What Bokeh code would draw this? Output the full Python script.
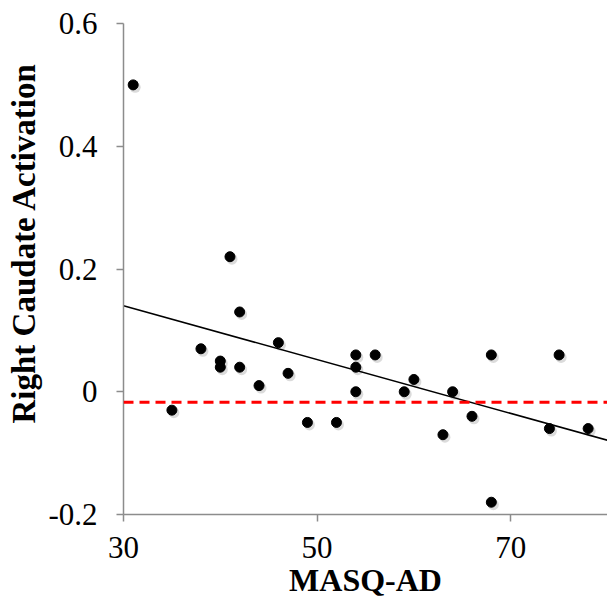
import numpy as np
from bokeh.plotting import figure
from bokeh.models import FixedTicker, Span, Title
from bokeh.embed import file_html
from bokeh.resources import INLINE

# Data
masq_ad = [31, 35, 38, 40, 40, 41, 42, 42, 44, 46, 47, 49, 52, 54, 54, 54, 56,
           59, 60, 63, 64, 66, 68, 68, 74, 75, 78]
caudate = [0.50, -0.03, 0.07, 0.05, 0.04, 0.22, 0.13, 0.04, 0.01, 0.08, 0.03,
           -0.05, -0.05, 0.06, 0.04, 0.00, 0.06, 0.00, 0.02, -0.07, 0.00, -0.04,
           0.06, -0.18, -0.06, 0.06, -0.06]
trend_x = [30, 80]
trend_y = [0.140, -0.079]
reference_level = -0.017
x_ticks = [30, 50, 70]
y_ticks = [-0.2, 0, 0.2, 0.4, 0.6]
y_tick_labels = {-0.2: "-0.2", 0: "0", 0.2: "0.2", 0.4: "0.4", 0.6: "0.6"}
x_range = (30, 80)
y_range = (-0.2, 0.6)

FONT = "Liberation Serif"
W, H = 607, 600
BL, BT, BB = 121, 23, 85

p = figure(width=W, height=H, x_range=x_range, y_range=y_range,
           output_backend="svg", toolbar_location=None,
           min_border_left=BL, min_border_right=0, min_border_top=BT,
           min_border_bottom=BB)
p.outline_line_color = None
p.xgrid.visible = False
p.ygrid.visible = False
p.background_fill_color = "white"
p.border_fill_color = "white"

# soft shadow (offset by roughly 2px)
fw = W - BL
fh = H - BT - BB
dx = 2.0 * (x_range[1] - x_range[0]) / fw
dy = 2.5 * (y_range[1] - y_range[0]) / fh
xs = np.array(masq_ad, dtype=float)
ys = np.array(caudate, dtype=float)
p.scatter(xs + dx, ys - dy, size=11, fill_color="#888888", fill_alpha=0.3,
          line_color=None)

# trend line
p.line(trend_x, trend_y, line_color="black", line_width=1.5)

# reference dashed line
p.add_layout(Span(location=reference_level, dimension="width",
                  line_color="#ff0000", line_width=3, line_dash="10 6"))

p.scatter(xs, ys, size=10, fill_color="black", line_color="black")

for ax in (p.xaxis[0], p.yaxis[0]):
    ax.axis_line_color = "#8c8c8c"
    ax.axis_line_width = 1.5
    ax.major_tick_line_color = "#8c8c8c"
    ax.major_tick_line_width = 1.5
    ax.major_tick_out = 7
    ax.major_tick_in = 0
    ax.minor_tick_line_color = None
    ax.major_label_text_font = FONT
    ax.major_label_text_font_size = "31px"
    ax.major_label_text_color = "black"
    ax.axis_label_text_font = FONT
    ax.axis_label_text_font_size = "32px"
    ax.axis_label_text_font_style = "bold"
    ax.axis_label_text_color = "black"

p.xaxis[0].ticker = FixedTicker(ticks=x_ticks)
p.yaxis[0].ticker = FixedTicker(ticks=y_ticks)
p.yaxis[0].major_label_overrides = y_tick_labels
p.xaxis[0].axis_label = "MASQ-AD"
p.xaxis[0].major_label_standoff = 15
p.yaxis[0].major_label_standoff = 19
p.xaxis[0].axis_label_standoff = 1

ylab = Title(text="Right Caudate Activation", align="left", offset=91,
             text_font=FONT, text_font_size="33px", text_font_style="bold",
             text_color="black", standoff=7)
p.add_layout(ylab, "left")

open("out.html", "w").write(file_html(p, INLINE))
